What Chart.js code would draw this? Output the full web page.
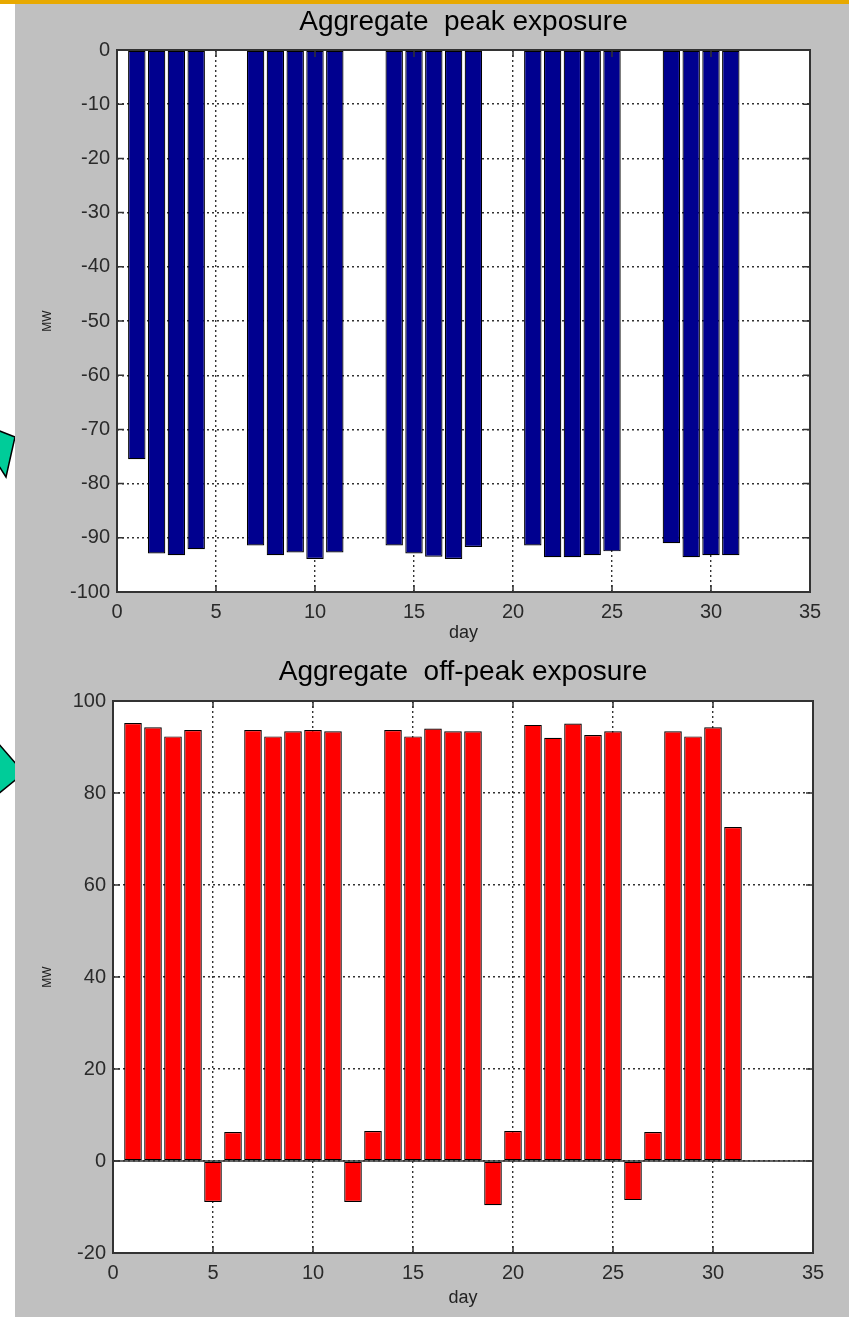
<!DOCTYPE html>
<html>
<head>
<meta charset="utf-8">
<title>Aggregate exposure</title>
<script src="https://cdn.jsdelivr.net/npm/chart.js@4.4.1/dist/chart.umd.min.js"></script>
<style>
  html, body { margin: 0; padding: 0; background: #fff; }
  #page { position: relative; width: 849px; height: 1317px; overflow: hidden; }
  #topbar { position: absolute; left: 0; top: 0; width: 849px; height: 4px; background: #e8a900; }
  #panel { position: absolute; left: 15px; top: 4px; width: 834px; height: 1313px; background: #c0c0c0; }
  #arrows { position: absolute; left: 0; top: 0; }
  canvas { position: absolute; left: 0; }
  #chart-peak { top: 0; }
  #chart-offpeak { top: 650px; }
</style>
</head>
<body>
<div id="page">
  <svg id="arrows" width="40" height="1317">
    <polygon points="-3,430 15,437 6,477 -3,463" fill="#00cc99" stroke="#000" stroke-width="1.5"/>
    <polygon points="-3,742 24,773 -3,795" fill="#00cc99" stroke="#000" stroke-width="1.5"/>
  </svg>
  <div id="panel"></div>
  <div id="topbar"></div>
  <canvas id="chart-peak" width="849" height="650"></canvas>
  <canvas id="chart-offpeak" width="849" height="667"></canvas>
</div>
<script>
// dias do mes
const days = [1, 2, 3, 4, 5, 6, 7, 8, 9, 10, 11, 12, 13, 14, 15, 16,
  17, 18, 19, 20, 21, 22, 23, 24, 25, 26, 27, 28, 29, 30, 31]

// MW, null = sem barra
const peakExposure = [-75.5, -92.9, -93.2, -92.1, null, null, -91.4, -93.2,
  -92.7, -93.9, -92.7, null, null, -91.4, -92.9, -93.5, -93.9, -91.7, null,
  null, -91.4, -93.6, -93.6, -93.2, -92.5, null, null, -91.0, -93.6, -93.2, -93.2]

const offPeakExposure = [95.2, 94.3, 92.3, 93.7, -8.9, 6.3, 93.7, 92.3, 93.4,
  93.7, 93.4, -8.9, 6.5, 93.7, 92.3, 94.0, 93.4, 93.4, -9.6, 6.5, 94.8, 92.0,
  95.1, 92.6, 93.4, -8.5, 6.3, 93.4, 92.3, 94.3, 72.6]

const dayTicks = [0, 5, 10, 15, 20, 25, 30, 35]
const peakTicks = [-100, -90, -80, -70, -60, -50, -40, -30, -20, -10, 0]
const offPeakTicks = [-20, 0, 20, 40, 60, 80, 100]

const FONT = "'Liberation Sans', Arial, Helvetica, sans-serif"
const AXIS_COLOR = "#333"

// caixa, marcas internas e linha do zero estilo matlab
const matlabAxes = {
  id: "matlabAxes",
  beforeDraw(chart) {
    const { ctx, chartArea: a } = chart
    ctx.save()
    ctx.fillStyle = "#fff"
    ctx.fillRect(a.left, a.top, a.right - a.left, a.bottom - a.top)
    ctx.restore()
  },
  afterDatasetsDraw(chart, args, opts) {
    const { ctx, chartArea: a, scales } = chart
    ctx.save()
    ctx.setLineDash([])
    ctx.strokeStyle = AXIS_COLOR
    ctx.lineWidth = 1.5
    if (opts.zeroLine) {
      const y0 = scales.y.getPixelForValue(0)
      ctx.beginPath()
      ctx.moveTo(a.left, y0)
      ctx.lineTo(a.right, y0)
      ctx.stroke()
    }
    const len = 7
    ctx.beginPath()
    scales.x.ticks.forEach((t) => {
      const px = scales.x.getPixelForValue(t.value)
      ctx.moveTo(px, a.bottom)
      ctx.lineTo(px, a.bottom - len)
      ctx.moveTo(px, a.top)
      ctx.lineTo(px, a.top + len)
    })
    scales.y.ticks.forEach((t) => {
      const py = scales.y.getPixelForValue(t.value)
      ctx.moveTo(a.left, py)
      ctx.lineTo(a.left + len, py)
      ctx.moveTo(a.right, py)
      ctx.lineTo(a.right - len, py)
    })
    ctx.stroke()
    ctx.lineWidth = 2
    ctx.strokeRect(a.left, a.top, a.right - a.left, a.bottom - a.top)
    ctx.restore()
  },
}

function renderExposureChart(canvasId, cfg) {
  const canvas = document.getElementById(canvasId)
  if (!canvas || typeof Chart === "undefined") return null

  const points = days
    .map((d, i) => ({ x: d, y: cfg.values[i] }))
    .filter((p) => p.y !== null)

  return new Chart(canvas, {
    type: "bar",
    data: {
      datasets: [
        {
          data: points,
          backgroundColor: cfg.color,
          borderColor: "#000",
          borderWidth: 1.2,
          borderSkipped: false,
          barPercentage: 0.88,
          categoryPercentage: 1.0,
        },
      ],
    },
    options: {
      responsive: false,
      animation: false,
      events: [],
      layout: { padding: { left: 0, right: cfg.padRight, top: 0, bottom: 0 } },
      plugins: {
        legend: { display: false },
        tooltip: { enabled: false },
        title: {
          display: true,
          text: cfg.title,
          fullSize: false,
          color: "#000",
          font: { family: FONT, size: 28, weight: "normal" },
          padding: { top: 5, bottom: cfg.titleGap },
        },
        matlabAxes: { zeroLine: cfg.zeroLine },
      },
      scales: {
        x: {
          type: "linear",
          min: 0,
          max: 35,
          offset: false,
          afterBuildTicks: (s) => { s.ticks = dayTicks.map((v) => ({ value: v })) },
          afterFit: (s) => { s.height = cfg.xHeight },
          ticks: {
            autoSkip: false,
            maxRotation: 0,
            padding: 8,
            color: "#2a2a2a",
            font: { family: FONT, size: 20 },
          },
          grid: { offset: false, color: "#333", lineWidth: 1.4, drawTicks: false },
          border: { display: false, dash: [2, 3] },
          title: {
            display: true,
            text: "day",
            color: "#222",
            font: { family: FONT, size: 18 },
            padding: { top: 0, bottom: cfg.dayGap },
          },
        },
        y: {
          min: cfg.yTicks[0],
          max: cfg.yTicks[cfg.yTicks.length - 1],
          afterBuildTicks: (s) => { s.ticks = cfg.yTicks.map((v) => ({ value: v })) },
          afterFit: (s) => { s.width = cfg.yWidth },
          ticks: {
            padding: 7,
            color: "#2a2a2a",
            font: { family: FONT, size: 20 },
          },
          grid: { color: "#333", lineWidth: 1.4, drawTicks: false },
          border: { display: false, dash: [2, 3] },
          title: {
            display: true,
            text: "MW",
            color: "#222",
            font: { family: FONT, size: 12 },
            padding: { top: 40, bottom: 0 },
          },
        },
      },
    },
    plugins: [matlabAxes],
  })
}

renderExposureChart("chart-peak", {
  title: "Aggregate  peak exposure",
  values: peakExposure,
  color: "#00008f",
  yTicks: peakTicks,
  zeroLine: false,
  padRight: 39,
  yWidth: 117,
  xHeight: 58,
  titleGap: 11.4,
  dayGap: 6,
})

renderExposureChart("chart-offpeak", {
  title: "Aggregate  off-peak exposure",
  values: offPeakExposure,
  color: "#ff0000",
  yTicks: offPeakTicks,
  zeroLine: true,
  padRight: 36,
  yWidth: 113,
  xHeight: 64,
  titleGap: 12.4,
  dayGap: 8,
})
</script>
</body>
</html>
